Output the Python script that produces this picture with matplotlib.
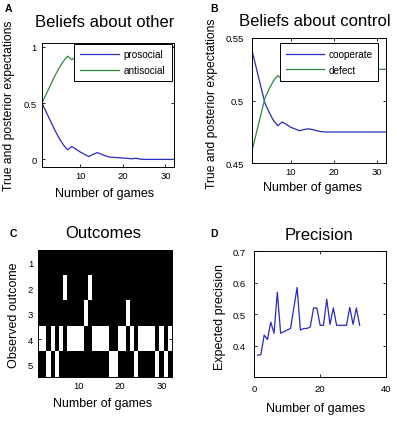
import numpy as np
import matplotlib
matplotlib.use('Agg')
import matplotlib.pyplot as plt

plt.rcParams['font.family'] = ['Liberation Sans', 'DejaVu Sans']

W, H = 397., 427.

# datos
games = np.arange(1, 33)
prosocial = [0.5, 0.42, 0.34, 0.26, 0.19, 0.13, 0.085, 0.115, 0.09, 0.065, 0.045, 0.025,
             0.045, 0.06, 0.045, 0.03, 0.02, 0.018, 0.015, 0.012, 0.01, 0.005, 0.01, 0.003,
             0, 0, 0, 0, 0, 0, 0, 0]
antisocial = [0.5, 0.58, 0.66, 0.74, 0.81, 0.87, 0.915, 0.885, 0.91, 0.935, 0.955, 0.975,
              0.955, 0.94, 0.955, 0.97, 0.98, 0.982, 0.985, 0.988, 0.99, 0.995, 0.99, 0.997,
              1, 1, 1, 1, 1, 1, 1, 1]
cooperate = [0.540, 0.526, 0.512, 0.498, 0.4905, 0.484, 0.480, 0.483, 0.481, 0.4787, 0.4774, 0.476,
             0.4769, 0.4775, 0.477, 0.476, 0.4753, 0.475, 0.475, 0.475, 0.475, 0.475, 0.475, 0.475,
             0.475, 0.475, 0.475, 0.475, 0.475, 0.475, 0.475, 0.475]
defect = [0.460, 0.474, 0.488, 0.502, 0.5095, 0.516, 0.520, 0.517, 0.519, 0.5213, 0.5226, 0.524,
          0.5231, 0.5225, 0.523, 0.524, 0.5247, 0.525, 0.525, 0.525, 0.525, 0.525, 0.525, 0.525,
          0.525, 0.525, 0.525, 0.525, 0.525, 0.525, 0.525, 0.525]
outcome = [4, 4, 5, 4, 5, 4, 2, 4, 4, 4, 4, 3, 2, 4, 4, 4, 4, 5, 5, 4, 4, 3, 4, 5, 4, 4, 4, 4, 5, 4, 5, 4]
precision = [0.37, 0.372, 0.434, 0.42, 0.475, 0.44, 0.57, 0.44, 0.445, 0.45, 0.455, 0.52,
             0.585, 0.45, 0.455, 0.455, 0.46, 0.52, 0.52, 0.465, 0.465, 0.548, 0.468, 0.52,
             0.465, 0.465, 0.465, 0.465, 0.522, 0.468, 0.52, 0.465]

blue = '#2a2ac4'
green = '#2e8a3e'

def fx(x):
    return x / W

def fy(y):
    return 1 - y / H

def caja(l, t, r, b):
    return [fx(l), fy(b), (r - l) / W, (b - t) / H]

def estilo(ax, xpad=2.5, ypad=3.8):
    ax.tick_params(direction='in', length=2, width=0.6, top=True, right=True,
                   labelsize=6.8, colors='black')
    ax.tick_params(axis='x', pad=xpad)
    ax.tick_params(axis='y', pad=ypad)
    for s in ax.spines.values():
        s.set_linewidth(0.7)

fig = plt.figure(figsize=(W / 100, H / 100), dpi=100)

#A
ax = fig.add_axes(caja(42, 44.3, 174, 168.3))
ax.plot(games, prosocial, color=blue, lw=0.9, label='prosocial')
ax.plot(games, antisocial, color=green, lw=0.9, label='antisocial')
ax.set_xlim(1, 32)
ax.set_ylim(-0.07, 1.03)
ax.set_xticks([10, 20, 30])
ax.set_yticks([0, 0.5, 1])
ax.set_yticklabels(['0', '0.5', '1'])
estilo(ax)
ax.legend(loc='upper right', bbox_to_anchor=(fx(171.5), fy(44.5)), bbox_transform=fig.transFigure,
          fontsize=7.2, handlelength=3.9, handletextpad=0.5, borderpad=0.6, labelspacing=0.55,
          borderaxespad=0, fancybox=False, edgecolor='black', framealpha=1).get_frame().set_linewidth(0.7)
fig.text(fx(105), fy(26.7), u'Beliefs about other', ha='center', va='baseline', fontsize=12)
fig.text(fx(105), fy(197), u'Number of games', ha='center', va='baseline', fontsize=9)
fig.text(fx(9.5), fy(106), u'True and posterior expectations', rotation=90, ha='center', va='center', fontsize=8.7)
fig.text(fx(5), fy(12.3), 'A', fontweight='bold', fontsize=7.5, va='baseline')

#B
ax = fig.add_axes(caja(252, 39, 385.7, 164.3))
ax.plot(games, cooperate, color=blue, lw=0.9, label='cooperate')
ax.plot(games, defect, color=green, lw=0.9, label='defect')
ax.set_xlim(1, 32)
ax.set_ylim(0.45, 0.55)
ax.set_xticks([10, 20, 30])
ax.set_yticks([0.45, 0.5, 0.55])
ax.set_yticklabels(['0.45', '0.5', '0.55'])
estilo(ax, ypad=6)
ax.legend(loc='upper right', bbox_to_anchor=(fx(378.3), fy(44)), bbox_transform=fig.transFigure,
          fontsize=7.2, handlelength=3.8, handletextpad=0.4, borderpad=0.6, labelspacing=0.55,
          borderaxespad=0, fancybox=False, edgecolor='black', framealpha=1).get_frame().set_linewidth(0.7)
fig.text(fx(315), fy(26), u'Beliefs about control', ha='center', va='baseline', fontsize=12)
fig.text(fx(313), fy(191.4), u'Number of games', ha='center', va='baseline', fontsize=9)
fig.text(fx(212), fy(104), u'True and posterior expectations', rotation=90, ha='center', va='center', fontsize=8.7)
fig.text(fx(210.3), fy(11.7), 'B', fontweight='bold', fontsize=7.5, va='baseline')

#C
M = np.zeros((5, len(outcome)))
for g, o in enumerate(outcome):
    M[o - 1, g] = 1
ax = fig.add_axes(caja(38.3, 251, 172.3, 378.3))
ax.imshow(M, cmap='gray', aspect='auto', interpolation='nearest',
          extent=[0.5, len(outcome) + 0.5, 5.5, 0.5])
ax.set_xticks([10, 20, 30])
ax.set_yticks([1, 2, 3, 4, 5])
estilo(ax, xpad=3, ypad=3.6)
fig.text(fx(103), fy(238.3), u'Outcomes', ha='center', va='baseline', fontsize=12)
fig.text(fx(102.5), fy(407), u'Number of games', ha='center', va='baseline', fontsize=9)
fig.text(fx(14), fy(315.5), u'Observed outcome', rotation=90, ha='center', va='center', fontsize=9)
fig.text(fx(10), fy(236.7), 'C', fontweight='bold', fontsize=7.5, va='baseline')

#D
ax = fig.add_axes(caja(254.3, 252.3, 386, 378.3))
ax.plot(games, precision, color=blue, lw=0.9)
ax.set_xlim(0, 40)
ax.set_ylim(0.3, 0.7)
ax.set_xticks([0, 20, 40])
ax.set_yticks([0.4, 0.5, 0.6, 0.7])
estilo(ax, xpad=5, ypad=5.8)
fig.text(fx(319), fy(240), u'Precision', ha='center', va='baseline', fontsize=12)
fig.text(fx(316), fy(412), u'Number of games', ha='center', va='baseline', fontsize=9)
fig.text(fx(220), fy(317.5), u'Expected precision', rotation=90, ha='center', va='center', fontsize=9)
fig.text(fx(210.3), fy(236.7), 'D', fontweight='bold', fontsize=7.5, va='baseline')

fig.savefig('out.png', dpi=100)
